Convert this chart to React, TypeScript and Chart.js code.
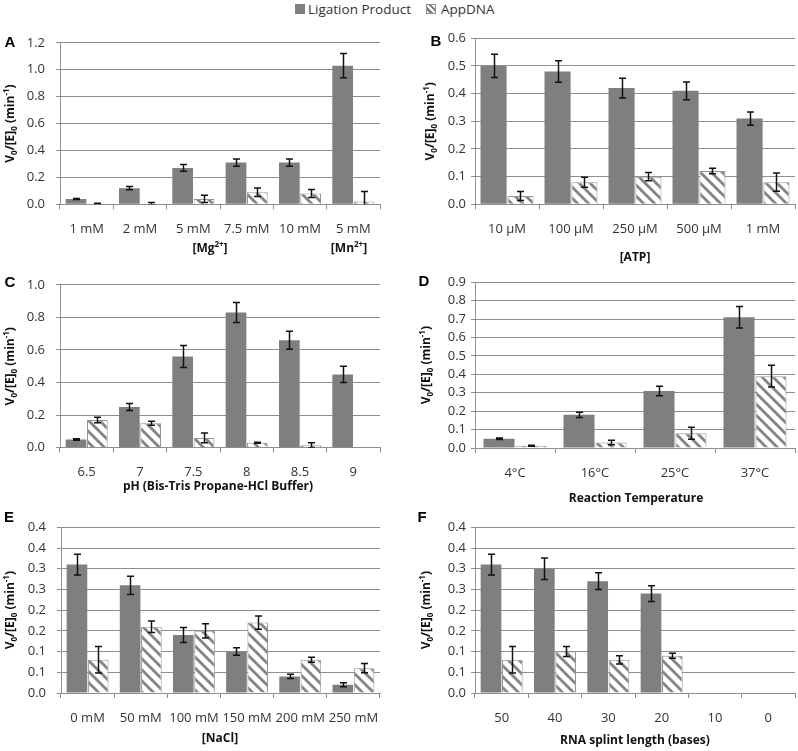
import React, { useEffect, useRef } from 'react';
import { Chart, registerables } from 'chart.js';

Chart.register(...registerables);

// ---------------- DATA ----------------
const SERIES_NAMES = ['Ligation Product', 'AppDNA'];

const A_CATEGORIES = ['1 mM', '2 mM', '5 mM', '7.5 mM', '10 mM', '5 mM'];
const A_LIGATION = [0.04, 0.12, 0.27, 0.31, 0.31, 1.03];
const A_LIGATION_ERR = [0.004, 0.012, 0.025, 0.027, 0.027, 0.09];
const A_APPDNA = [0.005, 0.005, 0.04, 0.09, 0.08, 0.02];
const A_APPDNA_ERR = [0.002, 0.008, 0.027, 0.032, 0.03, 0.075];
const A_Y_TICKS = [0, 0.2, 0.4, 0.6, 0.8, 1.0, 1.2];
const A_Y_LABELS = ['0.0', '0.2', '0.4', '0.6', '0.8', '1.0', '1.2'];

const B_CATEGORIES = ['10 µM', '100 µM', '250 µM', '500 µM', '1 mM'];
const B_LIGATION = [0.5, 0.48, 0.42, 0.41, 0.31];
const B_LIGATION_ERR = [0.042, 0.039, 0.036, 0.032, 0.024];
const B_APPDNA = [0.03, 0.08, 0.1, 0.12, 0.08];
const B_APPDNA_ERR = [0.016, 0.018, 0.015, 0.01, 0.033];
const B_Y_TICKS = [0, 0.1, 0.2, 0.3, 0.4, 0.5, 0.6];
const B_Y_LABELS = ['0.0', '0.1', '0.2', '0.3', '0.4', '0.5', '0.6'];

const C_CATEGORIES = ['6.5', '7', '7.5', '8', '8.5', '9'];
const C_LIGATION = [0.05, 0.25, 0.56, 0.83, 0.66, 0.45];
const C_LIGATION_ERR = [0.005, 0.022, 0.067, 0.062, 0.055, 0.05];
const C_APPDNA = [0.17, 0.15, 0.06, 0.03, 0.015, null];
const C_APPDNA_ERR = [0.017, 0.012, 0.03, 0.003, 0.015, null];
const C_Y_TICKS = [0, 0.2, 0.4, 0.6, 0.8, 1.0];
const C_Y_LABELS = ['0.0', '0.2', '0.4', '0.6', '0.8', '1.0'];

const D_CATEGORIES = ['4°C', '16°C', '25°C', '37°C'];
const D_LIGATION = [0.05, 0.18, 0.31, 0.71];
const D_LIGATION_ERR = [0.004, 0.014, 0.026, 0.058];
const D_APPDNA = [0.012, 0.03, 0.08, 0.39];
const D_APPDNA_ERR = [0.003, 0.012, 0.033, 0.059];
const D_Y_TICKS = [0, 0.1, 0.2, 0.3, 0.4, 0.5, 0.6, 0.7, 0.8, 0.9];
const D_Y_LABELS = ['0.0', '0.1', '0.2', '0.3', '0.4', '0.5', '0.6', '0.7', '0.8', '0.9'];

const E_CATEGORIES = ['0 mM', '50 mM', '100 mM', '150 mM', '200 mM', '250 mM'];
const E_LIGATION = [0.31, 0.26, 0.14, 0.1, 0.04, 0.02];
const E_LIGATION_ERR = [0.025, 0.022, 0.018, 0.009, 0.005, 0.005];
const E_APPDNA = [0.08, 0.16, 0.15, 0.17, 0.08, 0.06];
const E_APPDNA_ERR = [0.032, 0.014, 0.017, 0.016, 0.006, 0.011];

const F_CATEGORIES = ['50', '40', '30', '20', '10', '0'];
const F_LIGATION = [0.31, 0.3, 0.27, 0.24, null, null];
const F_LIGATION_ERR = [0.025, 0.026, 0.02, 0.019, null, null];
const F_APPDNA = [0.08, 0.1, 0.08, 0.09, null, null];
const F_APPDNA_ERR = [0.032, 0.012, 0.01, 0.006, null, null];

const EF_Y_TICKS = [0, 0.05, 0.1, 0.15, 0.2, 0.25, 0.3, 0.35, 0.4];
const EF_Y_LABELS = ['0.0', '0.1', '0.1', '0.2', '0.2', '0.3', '0.3', '0.4', '0.4'];

// ---------------- STYLE ----------------
const FONT = "'Open Sans', 'DejaVu Sans', sans-serif";
const LETTER_FONT = "'Liberation Sans', Arial, sans-serif";
const SOLID = '#7f7f7f';
const STRIPE = '#858585';
const GRID = '#8f8f8f';
const TEXT = '#333333';
const XAXIS_H = 56;
const EXTRA_BOTTOM = 10;

type Seg = { t: string; sub?: boolean; sup?: boolean };

const Y_TITLE: Seg[] = [
  { t: 'V' }, { t: '0', sub: true }, { t: '/[E]' }, { t: '0', sub: true },
  { t: ' (min' }, { t: '-1', sup: true }, { t: ')' },
];

function makePattern(): CanvasPattern | string {
  const n = 11;
  const c = document.createElement('canvas');
  c.width = n; c.height = n;
  const g = c.getContext('2d');
  if (!g) return STRIPE;
  g.fillStyle = '#ffffff';
  g.fillRect(0, 0, n, n);
  g.strokeStyle = STRIPE;
  g.lineWidth = 2.8;
  for (let k = -2; k <= 2; k++) {
    g.beginPath();
    g.moveTo(-n, -n + n * k);
    g.lineTo(2 * n, 2 * n + n * k);
    g.stroke();
  }
  return g.createPattern(c, 'repeat') || STRIPE;
}

function drawRich(ctx: CanvasRenderingContext2D, segs: Seg[], x: number, y: number,
  size: number, weight: string, rotate: boolean, family = FONT, color = '#111') {
  ctx.save();
  ctx.translate(x, y);
  if (rotate) ctx.rotate(-Math.PI / 2);
  const small = Math.round(size * 0.7);
  const widths = segs.map((s) => {
    ctx.font = `${weight} ${s.sub || s.sup ? small : size}px ${family}`;
    return ctx.measureText(s.t).width;
  });
  const total = widths.reduce((a, b) => a + b, 0);
  let cx = -total / 2;
  ctx.textBaseline = 'middle';
  ctx.textAlign = 'left';
  ctx.fillStyle = color;
  segs.forEach((s, i) => {
    ctx.font = `${weight} ${s.sub || s.sup ? small : size}px ${family}`;
    const dy = s.sub ? size * 0.32 : s.sup ? -size * 0.36 : 0;
    ctx.fillText(s.t, cx, dy);
    cx += widths[i];
  });
  ctx.restore();
}

const errorBarPlugin = {
  id: 'errorBars',
  afterDatasetsDraw(chart: any) {
    const ctx = chart.ctx;
    const ys = chart.scales.y;
    const ca = chart.chartArea;
    ctx.save();
    ctx.beginPath();
    ctx.rect(ca.left, ca.top - 2, ca.right - ca.left, ca.bottom - ca.top + 2);
    ctx.clip();
    ctx.strokeStyle = '#111';
    ctx.lineWidth = 1.5;
    chart.data.datasets.forEach((ds: any, di: number) => {
      const meta = chart.getDatasetMeta(di);
      meta.data.forEach((bar: any, i: number) => {
        const v = ds.data[i];
        const e = ds.errors ? ds.errors[i] : null;
        if (v == null || e == null) return;
        const x = Math.round(bar.x) + 0.5;
        const y1 = ys.getPixelForValue(v + e);
        const y2 = ys.getPixelForValue(v - e);
        ctx.beginPath();
        ctx.moveTo(x, y1); ctx.lineTo(x, y2);
        ctx.moveTo(x - 3.5, y1); ctx.lineTo(x + 3.5, y1);
        ctx.moveTo(x - 3.5, y2); ctx.lineTo(x + 3.5, y2);
        ctx.stroke();
      });
    });
    ctx.restore();
  },
};

type XTitle = { segs: Seg[]; x: number; y: number };
type Panel = {
  key: string;
  cats: string[];
  lig: (number | null)[]; ligErr: (number | null)[];
  app: (number | null)[]; appErr: (number | null)[];
  yTicks: number[]; yLabels: string[];
  canvas: { left: number; top: number; width: number };
  plot: { L: number; R: number; T: number; B: number };
  catPct: number; yPad: number;
  letter: { x: number; y: number };
  yTitleX: number;
  xTitles: XTitle[];
};

const PANELS: Panel[] = [
  {
    key: 'A', cats: A_CATEGORIES, lig: A_LIGATION, ligErr: A_LIGATION_ERR, app: A_APPDNA, appErr: A_APPDNA_ERR,
    yTicks: A_Y_TICKS, yLabels: A_Y_LABELS,
    canvas: { left: 0, top: 24, width: 398 }, plot: { L: 60, R: 380, T: 38.3, B: 204.3 },
    catPct: 0.8, yPad: 11, letter: { x: 10, y: 43 }, yTitleX: 11,
    xTitles: [
      { segs: [{ t: '[Mg' }, { t: '2+', sup: true }, { t: ']' }], x: 210, y: 249 },
      { segs: [{ t: '[Mn' }, { t: '2+', sup: true }, { t: ']' }], x: 349, y: 249 },
    ],
  },
  {
    key: 'B', cats: B_CATEGORIES, lig: B_LIGATION, ligErr: B_LIGATION_ERR, app: B_APPDNA, appErr: B_APPDNA_ERR,
    yTicks: B_Y_TICKS, yLabels: B_Y_LABELS,
    canvas: { left: 398, top: 24, width: 400 }, plot: { L: 475, R: 795, T: 38.3, B: 204.3 },
    catPct: 0.84, yPad: 5, letter: { x: 436, y: 42 }, yTitleX: 431,
    xTitles: [{ segs: [{ t: '[ATP]' }], x: 635, y: 258 }],
  },
  {
    key: 'C', cats: C_CATEGORIES, lig: C_LIGATION, ligErr: C_LIGATION_ERR, app: C_APPDNA, appErr: C_APPDNA_ERR,
    yTicks: C_Y_TICKS, yLabels: C_Y_LABELS,
    canvas: { left: 0, top: 266, width: 398 }, plot: { L: 60, R: 380, T: 282.7, B: 447.7 },
    catPct: 0.8, yPad: 11, letter: { x: 10, y: 283 }, yTitleX: 11,
    xTitles: [{ segs: [{ t: 'pH (Bis-Tris Propane-HCl Buffer)' }], x: 218, y: 487 }],
  },
  {
    key: 'D', cats: D_CATEGORIES, lig: D_LIGATION, ligErr: D_LIGATION_ERR, app: D_APPDNA, appErr: D_APPDNA_ERR,
    yTicks: D_Y_TICKS, yLabels: D_Y_LABELS,
    canvas: { left: 398, top: 266, width: 400 }, plot: { L: 475, R: 795, T: 282.3, B: 448 },
    catPct: 0.8, yPad: 5, letter: { x: 424, y: 282 }, yTitleX: 427,
    xTitles: [{ segs: [{ t: 'Reaction Temperature' }], x: 636, y: 499 }],
  },
  {
    key: 'E', cats: E_CATEGORIES, lig: E_LIGATION, ligErr: E_LIGATION_ERR, app: E_APPDNA, appErr: E_APPDNA_ERR,
    yTicks: EF_Y_TICKS, yLabels: EF_Y_LABELS,
    canvas: { left: 0, top: 506, width: 398 }, plot: { L: 61, R: 380, T: 527.3, B: 693 },
    catPct: 0.8, yPad: 11, letter: { x: 9, y: 518 }, yTitleX: 11,
    xTitles: [{ segs: [{ t: '[NaCl]' }], x: 220, y: 739 }],
  },
  {
    key: 'F', cats: F_CATEGORIES, lig: F_LIGATION, ligErr: F_LIGATION_ERR, app: F_APPDNA, appErr: F_APPDNA_ERR,
    yTicks: EF_Y_TICKS, yLabels: EF_Y_LABELS,
    canvas: { left: 398, top: 506, width: 400 }, plot: { L: 475, R: 795, T: 527.3, B: 693 },
    catPct: 0.8, yPad: 5, letter: { x: 422, y: 518 }, yTitleX: 427,
    xTitles: [{ segs: [{ t: 'RNA splint length (bases)' }], x: 635, y: 741 }],
  },
];

function canvasHeight(p: Panel) {
  return Math.ceil(p.plot.B - p.canvas.top + XAXIS_H + EXTRA_BOTTOM);
}

function PanelChart({ p }: { p: Panel }) {
  const ref = useRef<HTMLCanvasElement | null>(null);
  useEffect(() => {
    if (!ref.current) return;
    const pattern = makePattern();
    const h = canvasHeight(p);
    const textPlugin = {
      id: 'richText' + p.key,
      afterDraw(chart: any) {
        const ctx = chart.ctx;
        const ca = chart.chartArea;
        const ox = p.canvas.left;
        const oy = p.canvas.top;
        drawRich(ctx, [{ t: p.key }], p.letter.x - ox, p.letter.y - oy, 15, 'bold', false, LETTER_FONT, '#000');
        drawRich(ctx, Y_TITLE, p.yTitleX - ox, (ca.top + ca.bottom) / 2, 12, 'bold', true);
        p.xTitles.forEach((xt) => drawRich(ctx, xt.segs, xt.x - ox, xt.y - oy, 12, 'bold', false));
      },
    };
    const chart = new Chart(ref.current, {
      type: 'bar',
      data: {
        labels: p.cats,
        datasets: [
          {
            label: SERIES_NAMES[0], data: p.lig as any, errors: p.ligErr,
            backgroundColor: SOLID, borderWidth: 0,
            categoryPercentage: p.catPct, barPercentage: 0.97,
          } as any,
          {
            label: SERIES_NAMES[1], data: p.app as any, errors: p.appErr,
            backgroundColor: pattern, borderColor: '#959595', borderWidth: 1,
            categoryPercentage: p.catPct, barPercentage: 0.97,
          } as any,
        ],
      },
      options: {
        responsive: false,
        maintainAspectRatio: false,
        animation: false,
        devicePixelRatio: 1,
        layout: {
          padding: {
            left: 0,
            top: p.plot.T - p.canvas.top,
            right: p.canvas.left + p.canvas.width - p.plot.R,
            bottom: h - (p.plot.B - p.canvas.top) - XAXIS_H,
          },
        },
        scales: {
          x: {
            type: 'category',
            offset: true,
            grid: { offset: true, drawOnChartArea: false, drawTicks: true, tickLength: 5, color: GRID, lineWidth: 1 },
            border: { display: true, color: GRID, width: 1 },
            ticks: { font: { family: FONT, size: 13 }, color: TEXT, padding: 12, maxRotation: 0, minRotation: 0, autoSkip: false },
            afterFit: (s: any) => { s.height = XAXIS_H; },
          },
          y: {
            type: 'linear',
            min: 0,
            max: p.yTicks[p.yTicks.length - 1],
            afterBuildTicks: (s: any) => { s.ticks = p.yTicks.map((v) => ({ value: v })); },
            grid: { color: GRID, lineWidth: 1, drawTicks: true, tickLength: 4 },
            border: { display: true, color: GRID, width: 1 },
            ticks: {
              font: { family: FONT, size: 13 }, color: TEXT, padding: p.yPad, autoSkip: false,
              callback: (_v: any, i: number) => p.yLabels[i],
            },
            afterFit: (s: any) => { s.width = p.plot.L - p.canvas.left; },
          },
        },
        plugins: {
          legend: { display: false },
          tooltip: { enabled: false },
        },
      } as any,
      plugins: [errorBarPlugin, textPlugin],
    });
    return () => chart.destroy();
  }, [p]);
  const h = canvasHeight(p);
  return (
    <canvas
      ref={ref}
      width={p.canvas.width}
      height={h}
      style={{ position: 'absolute', left: p.canvas.left, top: p.canvas.top, width: p.canvas.width, height: h }}
    />
  );
}

export default function App() {
  const legendText: React.CSSProperties = {
    position: 'absolute', top: 0, height: 18, lineHeight: '18px',
    fontFamily: FONT, fontSize: 13.5, color: TEXT, whiteSpace: 'nowrap',
  };
  return (
    <div style={{ position: 'absolute', left: 0, top: 0, width: 798, height: 751, background: '#fff', overflow: 'hidden' }}>
      <div style={{ position: 'absolute', left: 295, top: 4, width: 10, height: 10, background: SOLID }} />
      <div style={{ ...legendText, left: 308 }}>{SERIES_NAMES[0]}</div>
      <div style={{
        position: 'absolute', left: 426, top: 4, width: 8, height: 8, border: '1px solid #8a8a8a',
        background: `repeating-linear-gradient(45deg, #ffffff 0px, #ffffff 2px, ${STRIPE} 2px, ${STRIPE} 4.5px)`,
      }} />
      <div style={{ ...legendText, left: 441 }}>{SERIES_NAMES[1]}</div>
      {PANELS.map((p) => <PanelChart key={p.key} p={p} />)}
    </div>
  );
}
